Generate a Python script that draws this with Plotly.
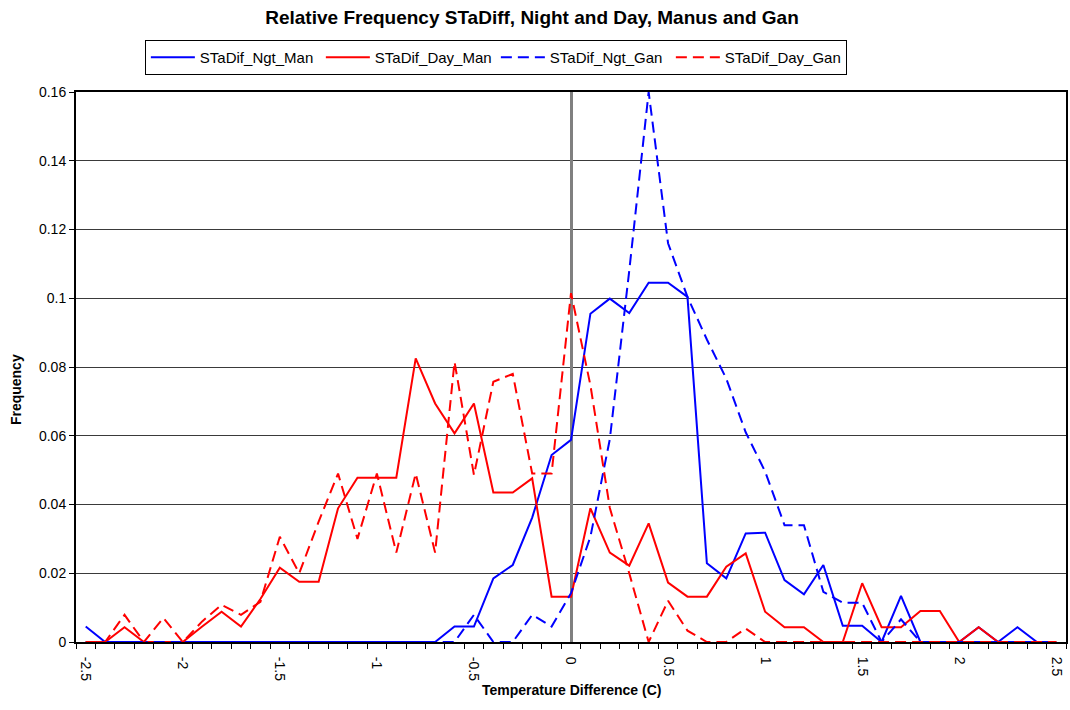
import plotly.graph_objects as go

# Temperature-difference classes (C), one per 0.1 degree
temp_diff = [round(-2.5 + 0.1 * i, 1) for i in range(51)]

# Relative frequencies per class
ngt_man = [0.0045, 0, 0, 0, 0, 0, 0, 0, 0, 0,
           0, 0, 0, 0, 0, 0, 0, 0, 0, 0.0045,
           0.0045, 0.0185, 0.0224, 0.0362, 0.0544, 0.0588, 0.0955, 0.0999, 0.0957, 0.1045,
           0.1045, 0.1004, 0.0229, 0.0185, 0.0316, 0.0318, 0.0180, 0.0139, 0.0224, 0.0047,
           0.0047, 0, 0.0134, 0, 0, 0, 0.0043, 0, 0.0043, 0,
           0]

day_man = [0, 0, 0.0043, 0, 0, 0, 0.0045, 0.0088, 0.0045, 0.0125,
           0.0216, 0.0175, 0.0175, 0.0389, 0.0478, 0.0478, 0.0478, 0.0825, 0.0694, 0.0607,
           0.0694, 0.0435, 0.0435, 0.0476, 0.0132, 0.0132, 0.0389, 0.0260, 0.0222, 0.0345,
           0.0173, 0.0132, 0.0132, 0.0219, 0.0258, 0.0088, 0.0043, 0.0043, 0, 0,
           0.0171, 0.0043, 0.0043, 0.0090, 0.0090, 0, 0.0043, 0, 0, 0,
           0]

ngt_gan = [0, 0, 0, 0, 0, 0, 0, 0, 0, 0,
           0, 0, 0, 0, 0, 0, 0, 0, 0, 0,
           0.0079, 0, 0, 0.0079, 0.0045, 0.0142, 0.0306, 0.0590, 0.1080, 0.1600,
           0.1160, 0.1004, 0.0880, 0.0766, 0.0610, 0.0496, 0.0340, 0.0340, 0.0146, 0.0114,
           0.0114, 0, 0.0066, 0, 0, 0, 0, 0, 0, 0,
           0]

day_gan = [0, 0, 0.0079, 0, 0.0070, 0, 0.0060, 0.0108, 0.0079, 0.0117,
           0.0306, 0.0200, 0.0350, 0.0490, 0.0300, 0.0490, 0.0260, 0.0490, 0.0260, 0.0815,
           0.0486, 0.0757, 0.0780, 0.0490, 0.0490, 0.1015, 0.0747, 0.0390, 0.0200, 0,
           0.0120, 0.0033, 0, 0, 0.0039, 0, 0, 0, 0, 0,
           0, 0, 0, 0, 0, 0, 0, 0, 0, 0,
           0]

series_names = ["STaDif_Ngt_Man", "STaDif_Day_Man", "STaDif_Ngt_Gan", "STaDif_Day_Gan"]

x_tick_vals = [-2.5, -2, -1.5, -1, -0.5, 0, 0.5, 1, 1.5, 2, 2.5]
x_tick_text = ["-2.5", "-2", "-1.5", "-1", "-0.5", "0", "0.5", "1", "1.5", "2", "2.5"]
# tick marks sit on the class boundaries
x_boundaries = [round(-2.55 + 0.1 * i, 2) for i in range(52)]

FONT = "Liberation Sans, Arial, sans-serif"
BLUE = "#0000FF"
RED = "#FF0000"
DASH = "11px,6px"

fig = go.Figure()
styles = [
    (ngt_man, BLUE, "solid"),
    (day_man, RED, "solid"),
    (ngt_gan, BLUE, DASH),
    (day_gan, RED, DASH),
]
for name, (vals, color, dash) in zip(series_names, styles):
    fig.add_trace(go.Scatter(
        x=temp_diff, y=vals, name=name, mode="lines",
        line=dict(color=color, width=2, dash=dash),
        cliponaxis=False,
    ))

W, H = 1070, 710
L, R, T, B = 76, 2, 92, 68
pw, ph = W - L - R, H - T - B

fig.update_layout(
    width=W, height=H,
    margin=dict(l=L, r=R, t=T, b=B),
    paper_bgcolor="white", plot_bgcolor="white",
    font=dict(family=FONT, size=14, color="black"),
    title=dict(
        text="<b>Relative Frequency STaDiff, Night and Day, Manus and Gan</b>",
        font=dict(family=FONT, size=19, color="black"),
        xref="container", x=532 / W, xanchor="center",
        yref="container", y=1 - 17 / H, yanchor="middle",
    ),
    showlegend=True,
    legend=dict(
        orientation="h",
        x=(145 - L) / pw, xanchor="left",
        y=(H - B - 40) / ph, yanchor="top",
        bordercolor="black", borderwidth=1,
        font=dict(family=FONT, size=15, color="black"),
        itemwidth=44,
        entrywidth=116, entrywidthmode="pixels",
        tracegroupgap=0,
    ),
    xaxis=dict(
        range=[-2.55, 2.55],
        tickmode="array", tickvals=x_tick_vals, ticktext=x_tick_text,
        tickangle=90, ticks="", ticklabelstandoff=10,
        tickfont=dict(family=FONT, size=14, color="black"),
        showgrid=False,
        showline=True, linecolor="black", linewidth=2, mirror=True,
        zeroline=True, zerolinecolor="#808080", zerolinewidth=3,
        minor=dict(tickmode="array", tickvals=x_boundaries, ticks="outside",
                   ticklen=5, tickwidth=1, tickcolor="black", showgrid=False),
    ),
    yaxis=dict(
        range=[0, 0.16], tick0=0, dtick=0.02,
        ticks="outside", ticklen=5, tickwidth=1, tickcolor="black",
        tickfont=dict(family=FONT, size=14, color="black"),
        showgrid=True, gridcolor="#3a3a3a", gridwidth=1,
        showline=True, linecolor="black", linewidth=2, mirror=True,
        zeroline=False,
    ),
    annotations=[
        dict(text="<b>Temperature Difference (C)</b>", xref="paper", yref="paper",
             x=(572 - L) / pw, y=(H - B - 690) / ph, xanchor="center", yanchor="middle",
             showarrow=False, font=dict(family=FONT, size=14, color="black")),
        dict(text="<b>Frequency</b>", xref="paper", yref="paper",
             x=(16 - L) / pw, y=(H - B - 390) / ph, xanchor="center", yanchor="middle",
             textangle=-90, showarrow=False,
             font=dict(family=FONT, size=14, color="black")),
    ],
)

fig.write_html("out.html")
